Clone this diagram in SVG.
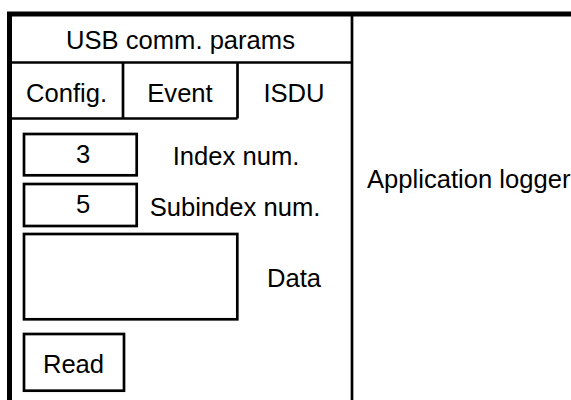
<svg xmlns="http://www.w3.org/2000/svg" width="571" height="400" viewBox="0 0 571 400">
  <style>
    .frame { fill: none; stroke: #000; stroke-width: 4; }
    .line { fill: none; stroke: #000; stroke-width: 2.7; }
    .box { fill: #fff; stroke: #000; stroke-width: 2.7; }
    text { font-family: "Liberation Sans", Arial, sans-serif; font-size: 25.6px; fill: #000; }
    .c { text-anchor: middle; }
  </style>
  <rect width="571" height="400" fill="#fff"/>

  <!-- outer window frame (continues past the right and bottom edges) -->
  <g id="window">
    <path class="frame" d="M9.5,410 V14 H580" style="stroke-width:5"/>
    <path class="frame" d="M7,14 H580"/>
  </g>

  <!-- left settings panel -->
  <g id="panel">
    <line class="line" x1="352" y1="14" x2="352" y2="410"/>
    <line class="line" x1="11" y1="62.5" x2="352" y2="62.5"/>
  </g>

  <g id="header">
    <text class="c" x="180.5" y="48.5">USB comm. params</text>
  </g>

  <g id="tabs">
    <line class="line" x1="11" y1="118.5" x2="237.5" y2="118.5"/>
    <line class="line" x1="123" y1="62.5" x2="123" y2="118.5"/>
    <line class="line" x1="237.5" y1="62.5" x2="237.5" y2="118.5"/>
    <text class="c" x="66.5" y="101.5">Config.</text>
    <text class="c" x="180" y="101.5">Event</text>
    <text class="c" x="294" y="101.5">ISDU</text>
  </g>

  <g id="index">
    <rect class="box" x="24" y="134" width="112.7" height="41.3"/>
    <text class="c" x="83" y="163.3">3</text>
    <text class="c" x="236" y="165">Index num.</text>
  </g>

  <g id="subindex">
    <rect class="box" x="24" y="184" width="112.7" height="42"/>
    <text class="c" x="83" y="212.7">5</text>
    <text class="c" x="235" y="216">Subindex num.</text>
  </g>

  <g id="data">
    <rect class="box" x="24" y="234" width="213.3" height="85.3"/>
    <text class="c" x="294" y="287.3">Data</text>
  </g>

  <g id="read">
    <rect class="box" x="24" y="334" width="100" height="56.7"/>
    <text class="c" x="73.5" y="373">Read</text>
  </g>

  <g id="logger">
    <text x="367" y="188">Application logger</text>
  </g>
</svg>
